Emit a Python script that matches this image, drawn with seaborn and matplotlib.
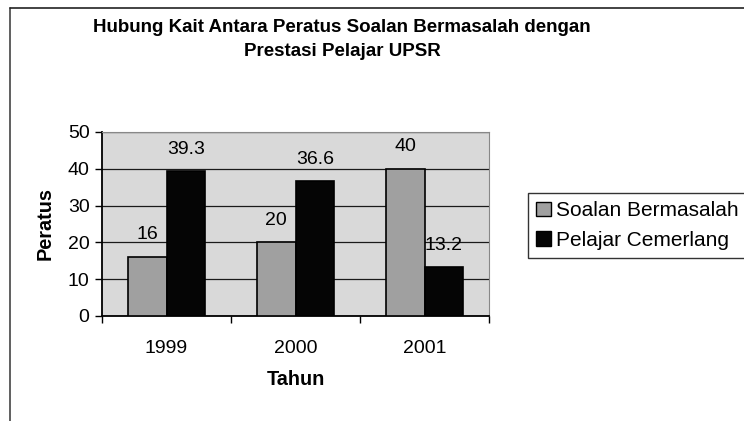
import pandas as pd
import numpy as np
import matplotlib.pyplot as plt
import seaborn as sns
from matplotlib.lines import Line2D
from matplotlib.patches import Patch

# Data
years = ['1999', '2000', '2001']
soalan = [16, 20, 40]
pelajar = [39.3, 36.6, 13.2]
series_names = ['Soalan Bermasalah', 'Pelajar Cemerlang']

df = pd.DataFrame({
    'Tahun': years * 2,
    'Peratus': soalan + pelajar,
    'Siri': [series_names[0]] * 3 + [series_names[1]] * 3,
})

sns.set_style('white')
plt.rcParams['font.family'] = ['Liberation Sans', 'DejaVu Sans']
plt.rcParams['text.color'] = 'black'
plt.rcParams['xtick.color'] = 'black'
plt.rcParams['ytick.color'] = 'black'
plt.rcParams['axes.labelcolor'] = 'black'

colors = ['#a0a0a0', '#050505']

fig = plt.figure(figsize=(7.44, 4.21), dpi=100)
ax = fig.add_axes([102 / 744, 1 - 316 / 421, 387 / 744, 184 / 421])
ax.set_facecolor('#d9d9d9')

sns.barplot(data=df, x='Tahun', y='Peratus', hue='Siri', palette=colors,
            width=0.6, edgecolor='black', linewidth=1.2, ax=ax, legend=False,
            zorder=3)

# data labels
for cont, vals in zip(ax.containers, [soalan, pelajar]):
    for bar, v in zip(cont, vals):
        ax.annotate(f'{v:g}', (bar.get_x() + bar.get_width() / 2, v),
                    xytext=(0, 16), textcoords='offset points',
                    ha='center', va='center', fontsize=14, zorder=5)

ax.set_ylim(0, 50)
ax.set_xlim(-0.5, 2.5)
ax.set_yticks(np.arange(0, 51, 10))
ax.yaxis.grid(True, color='#1a1a1a', linewidth=0.9, zorder=1)
ax.set_axisbelow(True)

ax.tick_params(axis='y', which='major', left=True, length=5, width=1,
               labelsize=14, pad=4)
ax.tick_params(axis='x', which='major', bottom=False, labelsize=14, pad=14)
ax.set_xticks([-0.5, 0.5, 1.5, 2.5], minor=True)
ax.tick_params(axis='x', which='minor', bottom=True, length=5, width=1)

for s in ['top', 'right']:
    ax.spines[s].set_color('#888888')
    ax.spines[s].set_linewidth(0.8)
for s in ['left', 'bottom']:
    ax.spines[s].set_color('black')
    ax.spines[s].set_linewidth(1.3)

ax.set_xlabel('Tahun', fontsize=14.3, fontweight='bold', labelpad=9)
ax.set_ylabel('Peratus', fontsize=14.3, fontweight='bold', labelpad=9)

fig.text(342 / 744, 1 - 28 / 421,
         'Hubung Kait Antara Peratus Soalan Bermasalah dengan',
         ha='center', va='center', fontsize=13.5, fontweight='bold')
fig.text(342 / 744, 1 - 52 / 421, 'Prestasi Pelajar UPSR',
         ha='center', va='center', fontsize=13.5, fontweight='bold')

handles = [Patch(facecolor=c, edgecolor='black', linewidth=1) for c in colors]
leg = fig.legend(handles, series_names, loc='upper left',
                 bbox_to_anchor=(528 / 744, 1 - 193 / 421),
                 fontsize=15, frameon=True, fancybox=False,
                 handlelength=0.7, handleheight=0.7, handletextpad=0.25,
                 borderpad=0.4, labelspacing=0.5, borderaxespad=0)
leg.get_frame().set_edgecolor('black')
leg.get_frame().set_linewidth(1)

# chart border (left and top edges)
fig.add_artist(Line2D([10 / 744, 10 / 744], [0, 1 - 8 / 421],
                      color='#444444', linewidth=1.2))
fig.add_artist(Line2D([10 / 744, 1], [1 - 8 / 421, 1 - 8 / 421],
                      color='#222222', linewidth=1.2))

fig.savefig('out.png', dpi=100)
